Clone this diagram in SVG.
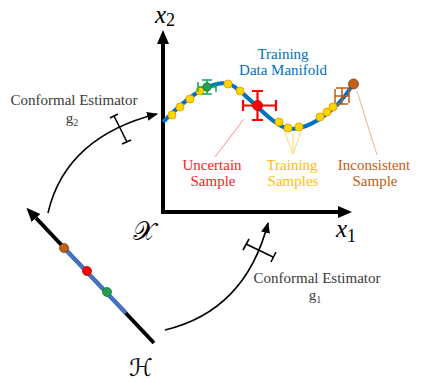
<svg xmlns="http://www.w3.org/2000/svg" width="423" height="386" viewBox="0 0 423 386">
<style>
.lbl{font-family:"Liberation Serif","DejaVu Serif",serif;font-size:15px;text-anchor:middle}
.gray{fill:#3a3a3a}
.math{font-family:"Liberation Serif","DejaVu Serif",serif;font-style:italic;fill:#000}
.sub{font-family:"Liberation Serif","DejaVu Serif",serif;font-style:normal}
.script{font-family:"DejaVu Serif","DejaVu Sans","Noto Sans",serif;fill:#000}
.yel{fill:#FFD700;stroke:#E8A800;stroke-width:1}
.arc{fill:none;stroke:#000;stroke-width:1.6}
.tick{fill:none;stroke:#000;stroke-width:1.6}
</style>
<defs>
<marker id="ah" markerUnits="userSpaceOnUse" markerWidth="12" markerHeight="10" refX="10" refY="4.5" orient="auto"><path d="M0,0 L11,4.5 L0,9 z" fill="#000"/></marker>
<marker id="axh" markerUnits="userSpaceOnUse" markerWidth="16" markerHeight="14" refX="0" refY="6" orient="auto"><path d="M0,0 L14,6 L0,12 z" fill="#000"/></marker>
</defs>

<g id="axes">
<path d="M163,212 L163,44" stroke="#000" stroke-width="4" fill="none" marker-end="url(#axh)"/>
<path d="M161,212 L338,212" stroke="#000" stroke-width="4" fill="none" marker-end="url(#axh)"/>
<text class="math" x="155" y="23" font-size="25">x<tspan class="sub" font-size="18" dy="3">2</tspan></text>
<text class="math" x="336" y="237" font-size="25">x<tspan class="sub" font-size="18" dy="5">1</tspan></text>
<text class="script" x="133" y="240" font-size="26">𝒳</text>
</g>

<g id="connectors">
<path class="arc" d="M48,213 C60,160 100,128 157,114" marker-end="url(#ah)"/>
<path class="arc" d="M165,330 C215,318 252,285 268,223" marker-end="url(#ah)"/>
<g id="mark-g2" class="tick">
<path d="M114,116 L127,142"/><path d="M110,118 L118,114"/><path d="M122,144 L131,140"/>
</g>
<g id="mark-g1" class="tick">
<path d="M246,244 L273,257"/><path d="M249,239 L243,250"/><path d="M276,252 L271,262"/>
</g>
<path d="M244,119 L215,157" stroke="#FF8C8C" stroke-width="1" fill="none"/>
<path d="M293,154 L284,130 M293,154 L293,132 M293,154 L301,132" stroke="#FFD966" stroke-width="1" fill="none"/>
<path d="M357,91 L377,155" stroke="#F4B183" stroke-width="1" fill="none"/>
</g>

<g id="manifold">
<path d="M163,122 C185,100 205,83 225,83 C240,83 270,127 290,129 C305,130 335,115 353,84" fill="none" stroke="#0070C0" stroke-width="4"/>
<circle class="yel" cx="172" cy="115" r="4"/>
<circle class="yel" cx="180" cy="107" r="4"/>
<circle class="yel" cx="190" cy="99" r="4"/>
<circle class="yel" cx="200" cy="91" r="4"/>
<circle class="yel" cx="228" cy="84" r="4"/>
<circle class="yel" cx="240" cy="91" r="4"/>
<circle class="yel" cx="279" cy="122" r="4"/>
<circle class="yel" cx="288" cy="128" r="4"/>
<circle class="yel" cx="299" cy="127" r="4"/>
<circle class="yel" cx="320" cy="117" r="4"/>
<circle class="yel" cx="327" cy="112" r="4"/>
<circle class="yel" cx="333" cy="107" r="4"/>
<text class="lbl" x="283" y="59" fill="#0070C0">Training</text>
<text class="lbl" x="283" y="75" fill="#0070C0">Data Manifold</text>
</g>

<g id="green-sample">
<path d="M198,87 L216,87 M198,82 L198,92 M216,82 L216,92 M207,80 L207,94 M202,80 L212,80 M202,94 L212,94" stroke="#00B050" stroke-width="1.5" fill="none"/>
<circle cx="207" cy="87" r="4.2" fill="#22A04B" stroke="#177a35" stroke-width="0.8"/>
</g>

<g id="uncertain-sample">
<path d="M243,105.5 L276,105.5 M243,100 L243,111 M276,100 L276,111 M257.5,91 L257.5,120 M252,91 L263,91 M252,120 L263,120" stroke="#FF0000" stroke-width="2.2" fill="none"/>
<circle cx="257.5" cy="105.5" r="5" fill="#FF0000" stroke="#C00000" stroke-width="0.8"/>
<text class="lbl" x="212" y="170" fill="#FF1A1A">Uncertain</text>
<text class="lbl" x="213" y="186" fill="#FF1A1A">Sample</text>
</g>

<g id="training-samples">
<text class="lbl" x="292" y="170" fill="#FFC000">Training</text>
<text class="lbl" x="293" y="186" fill="#FFC000">Samples</text>
</g>

<g id="inconsistent-sample">
<path d="M335,96 L349,96 M335,89 L335,103 M349,89 L349,103 M342,88 L342,104 M336,88 L348,88 M336,104 L348,104" stroke="#C55A11" stroke-width="1.5" fill="none"/>
<circle cx="353.5" cy="84" r="5" fill="#C0601A" stroke="#7F3A0A" stroke-width="0.8"/>
<text class="lbl" x="374" y="170" fill="#C55A11">Inconsistent</text>
<text class="lbl" x="375" y="186" fill="#C55A11">Sample</text>
</g>

<g id="h-space">
<path d="M154,343 L36,218" stroke="#000" stroke-width="4" fill="none" marker-end="url(#axh)"/>
<path d="M64,248 L126,313" stroke="#4472C4" stroke-width="4" fill="none"/>
<circle cx="64" cy="248" r="4.5" fill="#C0601A" stroke="#7F3A0A" stroke-width="0.8"/>
<circle cx="87" cy="271" r="4.5" fill="#FF0000" stroke="#C00000" stroke-width="0.8"/>
<circle cx="107" cy="292" r="4.5" fill="#22A04B" stroke="#177a35" stroke-width="0.8"/>
<text class="script" x="129" y="376" font-size="24">ℋ</text>
</g>

<g id="estimator-g2">
<text class="lbl gray" x="74" y="105">Conformal Estimator</text>
<text class="lbl gray" x="72" y="123">g<tspan font-size="10" dy="3">2</tspan></text>
</g>

<g id="estimator-g1">
<text class="lbl gray" x="317" y="283">Conformal Estimator</text>
<text class="lbl gray" x="315" y="300">g<tspan font-size="10" dy="3">1</tspan></text>
</g>
</svg>
